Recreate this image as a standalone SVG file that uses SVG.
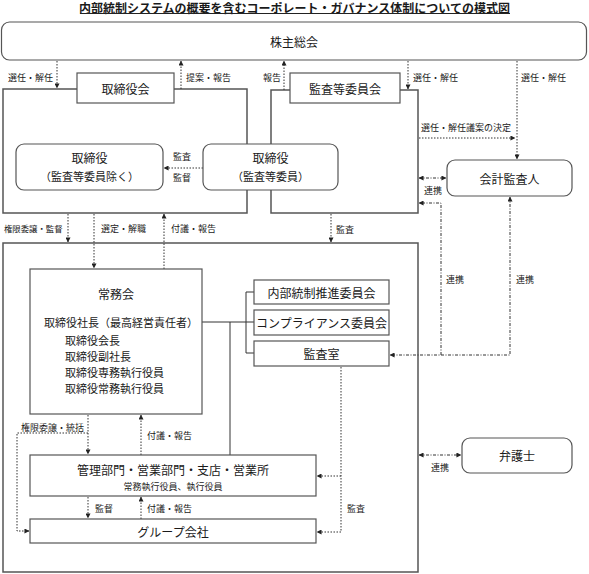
<svg xmlns="http://www.w3.org/2000/svg" width="589" height="574" viewBox="0 0 589 574">
<defs>
<marker id="ah" viewBox="0 0 6 6" refX="5.5" refY="3" markerWidth="5" markerHeight="5" markerUnits="userSpaceOnUse" orient="auto-start-reverse"><path d="M0,0 L6,3 L0,6 z" fill="#222"/></marker>
<style>
text{font-family:"Noto Sans CJK JP","Noto Sans",sans-serif;fill:#1a1a1a;dominant-baseline:central}
.t12{font-size:12px;text-anchor:middle}
.t11{font-size:11px}
.s{font-size:9px}
.c{text-anchor:middle}
.box{fill:#fff;stroke:#555;stroke-width:1.2}
.outer{fill:none;stroke:#555;stroke-width:1.5}
.dot{fill:none;stroke:#333;stroke-width:1;stroke-dasharray:1.5,1.5}
.dd{fill:none;stroke:#333;stroke-width:1;stroke-dasharray:3,1.5,1,1.5}
.sol{fill:none;stroke:#333;stroke-width:1}
.arr{marker-end:url(#ah)}
.bi{marker-start:url(#ah);marker-end:url(#ah)}
</style>
</defs>

<text x="294.5" y="7" class="t12" style="font-weight:bold">内部統制システムの概要を含むコーポレート・ガバナンス体制についての模式図</text>
<line x1="80" y1="13.5" x2="510" y2="13.5" stroke="#222" stroke-width="1"/>

<g id="outer-board"><rect class="outer" x="3" y="89" width="244" height="124"/></g>
<g id="outer-audit"><rect class="outer" x="271" y="90" width="147" height="123"/></g>
<g id="outer-exec"><rect class="outer" x="3" y="243" width="415" height="329"/></g>

<g id="connectors">
<path class="dot arr" d="M57,61 V88"/>
<path class="dot arr" d="M181,89 V61"/>
<path class="dot arr" d="M284,90 V61"/>
<path class="dot arr" d="M408,61 V89"/>
<path class="dot arr" d="M517,61 V159"/>
<path class="dot arr" d="M419,138 H515"/>
<path class="dd bi" d="M419,178 H446"/>
<path class="dd arr" d="M441,355 V203 H419"/>
<path class="dd bi" d="M510,197 V355 H390"/>
<path class="dot arr" d="M203,168 H164"/>
<path class="dot arr" d="M331,214 V242"/>
<path class="dot arr" d="M68,214 V242"/>
<path class="dot arr" d="M94,214 V268"/>
<path class="dot arr" d="M164,269 V214"/>
<path class="dot arr" d="M88,415 V454"/>
<path class="dot arr" d="M141,455 V415"/>
<path class="dot arr" d="M88,433 H17 V531 H29"/>
<path class="dot arr" d="M88,497 V518"/>
<path class="dot arr" d="M141,519 V497"/>
<path class="dot arr" d="M341,367 V532 H317"/>
<path class="dot arr" d="M341,476 H317"/>
<path class="dd bi" d="M419,455 H461"/>
<path class="sol" d="M198,322 H254"/>
<path class="sol" d="M230,322 V455"/>
<path class="sol" d="M254,292 H246 V353 H254"/>
</g>

<g id="labels">
<text x="8" y="77" class="s">選任・解任</text>
<text x="186" y="77" class="s">提案・報告</text>
<text x="263" y="77" class="s">報告</text>
<text x="413" y="77" class="s">選任・解任</text>
<text x="521" y="77" class="s">選任・解任</text>
<text x="421" y="127" class="s">選任・解任議案の決定</text>
<text x="424" y="190" class="s">連携</text>
<text x="182" y="156" class="s c">監査</text>
<text x="182" y="177" class="s c">監督</text>
<text x="4" y="228" class="s" style="font-size:8.4px">権限委譲・監督</text>
<text x="101" y="228" class="s">選定・解職</text>
<text x="171" y="228" class="s">付議・報告</text>
<text x="336" y="229" class="s">監査</text>
<text x="446" y="279" class="s">連携</text>
<text x="516" y="279" class="s">連携</text>
<text x="21" y="427" class="s">権限委譲・統括</text>
<text x="147" y="435" class="s">付議・報告</text>
<text x="95" y="508" class="s">監督</text>
<text x="147" y="508" class="s">付議・報告</text>
<text x="347" y="508" class="s">監査</text>
<text x="431" y="467" class="s">連携</text>
</g>

<g id="shareholders"><rect class="box" x="1.5" y="22" width="585" height="38" rx="8"/><text x="294" y="41" class="t12">株主総会</text></g>
<g id="board"><rect class="box" x="77" y="73" width="97" height="30"/><text x="125.5" y="88" class="t12">取締役会</text></g>
<g id="audit-committee"><rect class="box" x="290" y="73" width="110" height="30"/><text x="345" y="88" class="t12">監査等委員会</text></g>
<g id="directors"><rect class="box" x="16" y="144" width="147" height="46" rx="8"/><text x="89.5" y="157" class="t12">取締役</text><text x="89.5" y="176" class="t12" style="font-size:11px">（監査等委員除く）</text></g>
<g id="audit-directors"><rect class="box" x="203" y="144" width="135" height="46" rx="8"/><text x="270.5" y="157" class="t12">取締役</text><text x="270.5" y="176" class="t12" style="font-size:11px">（監査等委員）</text></g>
<g id="auditor"><rect class="box" x="447" y="160" width="125" height="36" rx="8"/><text x="509.5" y="178" class="t12">会計監査人</text></g>
<g id="managing"><rect class="box" x="30" y="269" width="172" height="145"/>
<text x="116" y="293" class="t12">常務会</text>
<text x="44" y="322" class="t11">取締役社長（最高経営責任者）</text>
<text x="65" y="339.5" class="t11">取締役会長</text>
<text x="65" y="355.5" class="t11">取締役副社長</text>
<text x="65" y="371.5" class="t11">取締役専務執行役員</text>
<text x="65" y="387.5" class="t11">取締役常務執行役員</text></g>
<g id="ic-committee"><rect class="box" x="254" y="280" width="135" height="24"/><text x="321.5" y="292" class="t12">内部統制推進委員会</text></g>
<g id="compliance"><rect class="box" x="254" y="310" width="135" height="25"/><text x="321.5" y="322.5" class="t12">コンプライアンス委員会</text></g>
<g id="audit-office"><rect class="box" x="254" y="341" width="135" height="25"/><text x="321.5" y="353.5" class="t12">監査室</text></g>
<g id="departments"><rect class="box" x="30" y="455" width="286" height="41"/><text x="173" y="469.5" class="t12">管理部門・営業部門・支店・営業所</text><text x="173" y="486" class="s c">常務執行役員、執行役員</text></g>
<g id="group"><rect class="box" x="30" y="519" width="286" height="24"/><text x="173" y="531" class="t12">グループ会社</text></g>
<g id="lawyer"><rect class="box" x="462" y="438" width="110" height="35" rx="8"/><text x="517" y="455.5" class="t12">弁護士</text></g>
</svg>
